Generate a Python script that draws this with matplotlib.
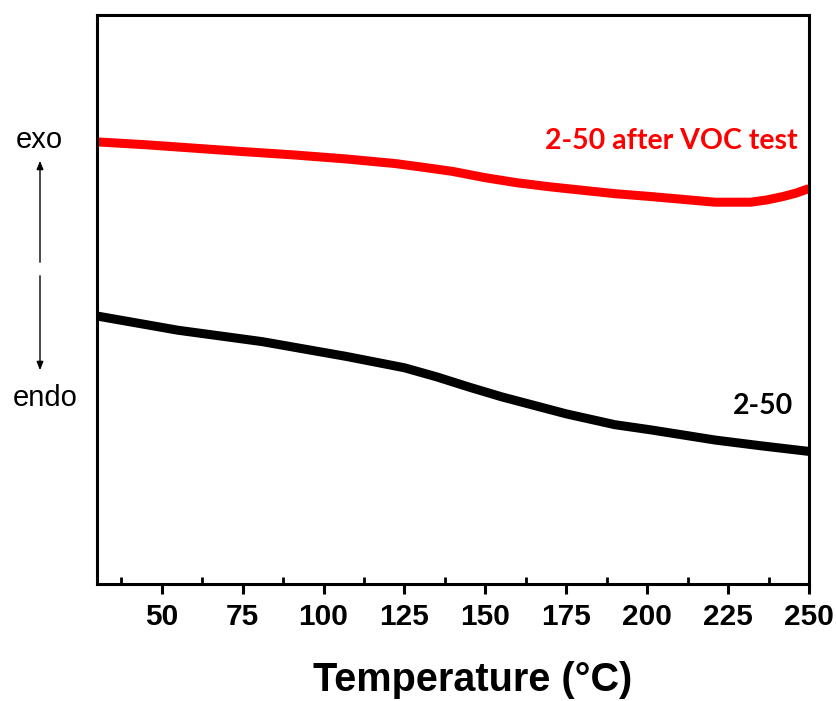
import matplotlib
matplotlib.use("Agg")
import matplotlib.pyplot as plt
from matplotlib.ticker import MultipleLocator

# Data (heat flow, arbitrary units)
temp_red = [30, 45, 60, 75, 91, 107, 122, 130, 140, 150, 160, 170, 180, 190, 201, 211, 221, 232, 237, 242, 246, 250]
heat_red = [7.77, 7.72, 7.66, 7.60, 7.54, 7.47, 7.39, 7.33, 7.25, 7.14, 7.05, 6.98, 6.92, 6.86, 6.81, 6.76, 6.71, 6.71, 6.75, 6.81, 6.87, 6.95]

temp_black = [30, 55, 81, 107, 125, 135, 145, 155, 165, 175, 190, 201, 221, 235, 250]
heat_black = [4.71, 4.46, 4.26, 4.00, 3.80, 3.64, 3.46, 3.29, 3.14, 2.99, 2.80, 2.71, 2.53, 2.43, 2.33]

xticks = [50, 75, 100, 125, 150, 175, 200, 225, 250]
label_red = "2-50 after VOC test"
label_black = "2-50"

W, H = 836, 701
fig = plt.figure(figsize=(W / 100, H / 100), dpi=100)
ax = fig.add_axes([97 / W, 1 - 584 / H, (809 - 97) / W, (584 - 15) / H])

ax.plot(temp_red, heat_red, color="#ff0000", lw=6.5, solid_capstyle="butt", solid_joinstyle="round")
ax.plot(temp_black, heat_black, color="black", lw=6.5, solid_capstyle="butt", solid_joinstyle="round")

ax.set_xlim(30, 250)
ax.set_ylim(0, 10)
ax.set_yticks([])
ax.set_xticks(xticks)
ax.xaxis.set_minor_locator(MultipleLocator(25, offset=12.5))
ax.tick_params(axis="x", which="major", direction="out", length=7, width=2.2, pad=7)
ax.tick_params(axis="x", which="minor", direction="in", length=5, width=2.0)
for s in ax.spines.values():
    s.set_linewidth(2.2)
for lbl in ax.get_xticklabels():
    lbl.set_fontfamily("Liberation Sans")
    lbl.set_fontweight("bold")
    lbl.set_fontsize(21.5)

ax.set_xlabel("Temperature (\u00b0C)", fontfamily="Liberation Sans", fontweight="bold",
              fontsize=28.5)
ax.xaxis.set_label_coords(0.527, -0.136)

ax.text(798, H - 141, label_red, color="#ff0000", fontfamily="Lato", fontweight="bold",
        fontsize=20.5, ha="right", va="center", transform=None)
ax.text(793, H - 406, label_black, color="black", fontfamily="Lato", fontweight="bold",
        fontsize=20.5, ha="right", va="center", transform=None)

fig.text(39 / W, 1 - 140 / H, "exo", fontfamily="Liberation Sans", fontsize=21,
         ha="center", va="center")
fig.text(45 / W, 1 - 398 / H, "endo", fontfamily="Liberation Sans", fontsize=21,
         ha="center", va="center")

arrow_kw = dict(arrowstyle="-|>,head_length=0.5,head_width=0.2", color="black", lw=1.0)
ax.annotate("", xy=(40, H - 158), xytext=(40, H - 265), xycoords="figure pixels",
            textcoords="figure pixels", arrowprops=arrow_kw, annotation_clip=False)
ax.annotate("", xy=(40, H - 373), xytext=(40, H - 273), xycoords="figure pixels",
            textcoords="figure pixels", arrowprops=arrow_kw, annotation_clip=False)

fig.savefig("out.png", dpi=100)
